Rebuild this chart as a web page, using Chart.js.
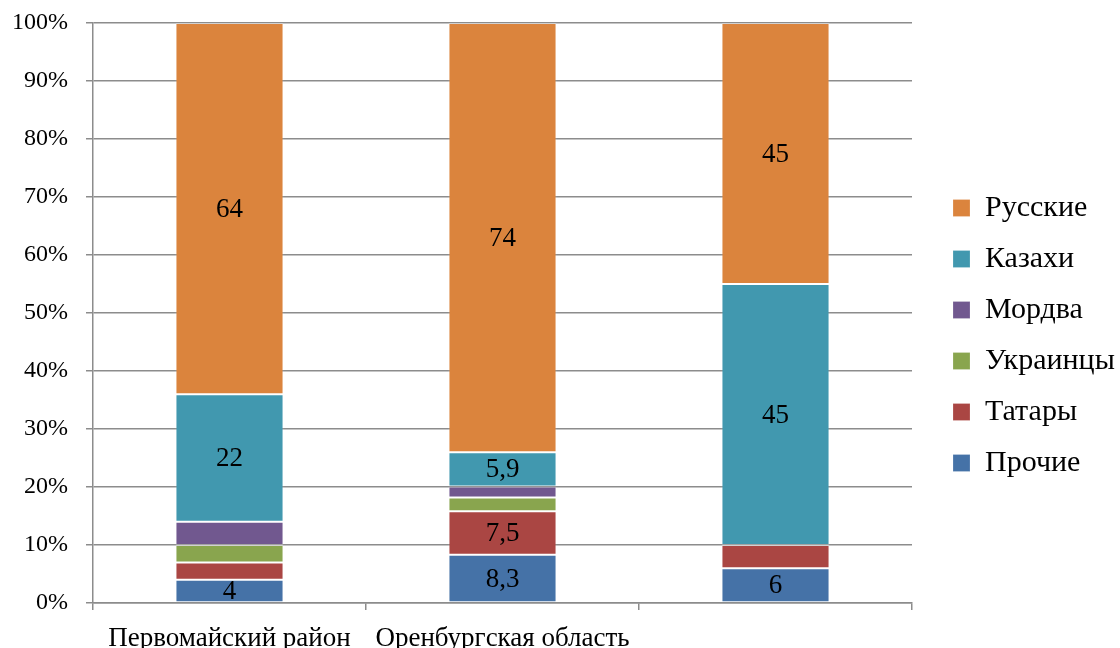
<!DOCTYPE html>
<html>
<head>
<meta charset="utf-8">
<script src="https://cdn.jsdelivr.net/npm/chart.js@4"></script>
<style>
  html, body { margin: 0; padding: 0; background: #fff; }
  #wrap { width: 1120px; height: 648px; }
</style>
</head>
<body>
<div id="wrap"><canvas id="chart"></canvas></div>
<script>
const categories = ['Первомайский район', 'Оренбургская область', ''];

const prochie   = [4, 8.3, 6];
const tatary    = [3, 7.5, 4];
const ukraintsy = [3, 2.4, 0];
const mordva    = [4, 1.9, 0];
const kazakhi   = [22, 5.9, 45];
const russkie   = [64, 74, 45];

// which segments carry a value label in the picture
const prochieLabels   = ['4', '8,3', '6'];
const tataryLabels    = [null, '7,5', null];
const ukraintsyLabels = [null, null, null];
const mordvaLabels    = [null, null, null];
const kazakhiLabels   = ['22', '5,9', '45'];
const russkieLabels   = ['64', '74', '45'];

const yTicks = [0, 10, 20, 30, 40, 50, 60, 70, 80, 90, 100];

const FONT = '"Liberation Serif", "Times New Roman", serif';
const GRID = '#8c8c8c';

const makeSet = (label, data, labels, color) => ({
  label: label,
  data: data,
  valueLabels: labels,
  backgroundColor: color,
  borderColor: 'rgba(255,255,255,0.2)',
  borderWidth: 1,
  borderSkipped: false,
  barPercentage: 0.396,
  categoryPercentage: 1.0
});

// value labels inside bar segments
const segmentLabels = {
  id: 'segmentLabels',
  afterDatasetsDraw(chart) {
    const ctx = chart.ctx;
    ctx.save();
    ctx.font = '27px ' + FONT;
    ctx.fillStyle = '#000';
    ctx.textAlign = 'center';
    ctx.textBaseline = 'middle';
    chart.data.datasets.forEach((ds, i) => {
      const meta = chart.getDatasetMeta(i);
      meta.data.forEach((bar, j) => {
        const txt = ds.valueLabels[j];
        if (txt == null) return;
        ctx.fillText(txt, bar.x, (bar.y + bar.base) / 2 + 1);
      });
    });
    ctx.restore();
  }
};

// fixed legend width so the plot ends where it does in the picture,
// then nudge the legend items a little to the right
const legendWidth = {
  id: 'legendWidth',
  beforeLayout(chart) {
    const lg = chart.legend;
    if (lg && !lg._patched) {
      const fit = lg.fit;
      lg.fit = function () {
        fit.call(this);
        this.width = 208;
      };
      lg._patched = true;
    }
  },
  afterLayout(chart) {
    if (chart.legend) chart.legend.left += 20;
  }
};

new Chart(document.getElementById('chart'), {
  type: 'bar',
  data: {
    labels: categories,
    datasets: [
      makeSet('Прочие', prochie, prochieLabels, '#4572A7'),
      makeSet('Татары', tatary, tataryLabels, '#AA4643'),
      makeSet('Украинцы', ukraintsy, ukraintsyLabels, '#89A54E'),
      makeSet('Мордва', mordva, mordvaLabels, '#71588F'),
      makeSet('Казахи', kazakhi, kazakhiLabels, '#4198AF'),
      makeSet('Русские', russkie, russkieLabels, '#DB843D')
    ]
  },
  options: {
    responsive: true,
    maintainAspectRatio: false,
    animation: false,
    layout: { padding: { top: 23, left: 0, right: 0, bottom: 0 } },
    plugins: {
      legend: {
        position: 'right',
        reverse: true,
        labels: {
          boxWidth: 17,
          boxHeight: 17,
          padding: 21,
          color: '#000',
          font: { family: FONT, size: 30 }
        }
      },
      tooltip: { enabled: false }
    },
    scales: {
      x: {
        stacked: true,
        grid: {
          offset: true,
          drawOnChartArea: false,
          drawTicks: true,
          tickLength: 7,
          color: GRID,
          lineWidth: 1.5
        },
        border: { color: GRID, width: 1.5 },
        ticks: {
          color: '#000',
          padding: 13,
          maxRotation: 0,
          autoSkip: false,
          font: { family: FONT, size: 27 }
        },
        afterFit(scale) { scale.height = 45; }
      },
      y: {
        stacked: true,
        min: 0,
        max: 100,
        afterBuildTicks(scale) {
          scale.ticks = yTicks.map(v => ({ value: v }));
        },
        grid: {
          color: GRID,
          lineWidth: 1.5,
          tickLength: 7
        },
        border: { color: GRID, width: 1.5 },
        ticks: {
          color: '#000',
          padding: 18,
          font: { family: FONT, size: 24 },
          callback: v => v + '%'
        },
        afterFit(scale) {
          scale.width = 93;
          scale.paddingTop = 0;
          scale.paddingBottom = 0;
        }
      }
    }
  },
  plugins: [segmentLabels, legendWidth]
});
</script>
</body>
</html>
